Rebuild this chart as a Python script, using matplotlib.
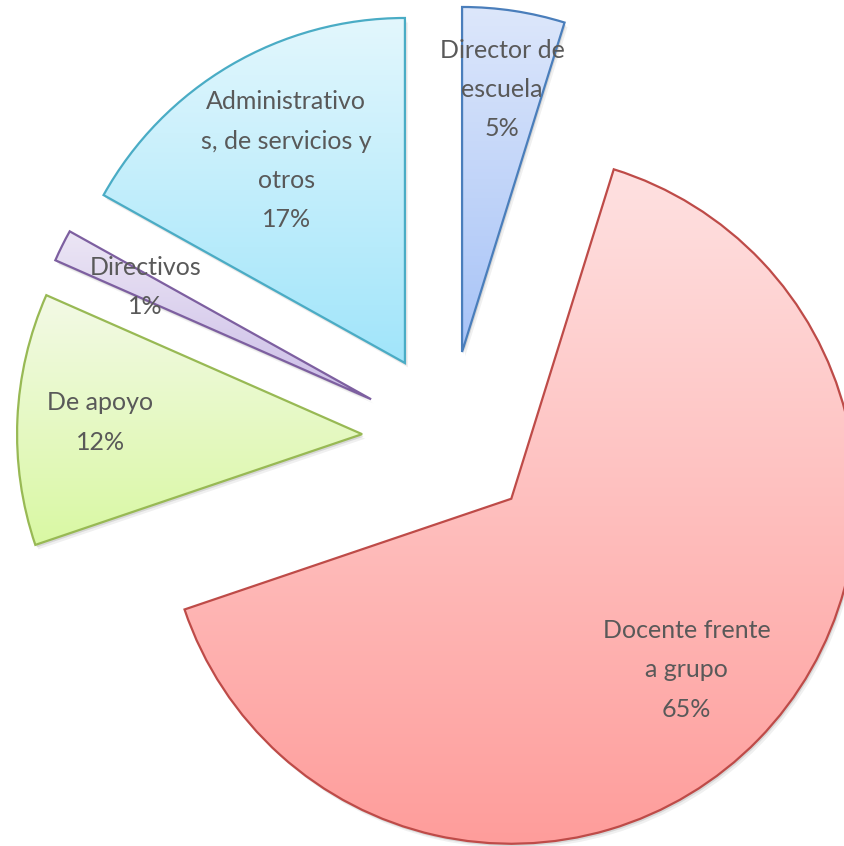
import numpy as np
import matplotlib.pyplot as plt
from matplotlib.colors import LinearSegmentedColormap
from matplotlib.patches import Wedge

# datos del gráfico
categorias = ['Director de\nescuela', 'Docente frente\na grupo', 'De apoyo',
              'Directivos', 'Administrativo\ns, de servicios y\notros']
porcentajes = [4.8, 65.0, 11.8, 1.49, 16.91]

# colores (degradado de arriba a abajo) y borde
color_arriba = ['#dde7fb', '#fee1e1', '#f3fae6', '#ece6f5', '#e3f7fd']
color_abajo = ['#a7c3f7', '#ff9d9b', '#d9f8a3', '#cbbde7', '#a1e5fa']
color_borde = ['#4a7ebb', '#be4b48', '#98b954', '#7d5fa0', '#4aacc5']
dist_etiqueta = [0.77, 0.71, 0.76, 0.73, 0.68]

fig = plt.figure(figsize=(8.44, 8.46), dpi=100)
ax = fig.add_axes([0, 0, 1, 1])

radio = 345
centro = (449, 408)
wedges, _ = ax.pie(porcentajes, radius=radio, center=centro, startangle=90,
                   counterclock=False, explode=[87] * len(porcentajes),
                   wedgeprops=dict(linewidth=1.6))

grad = np.linspace(0, 1, 256).reshape(-1, 1)
for i, w in enumerate(wedges):
    w.set_facecolor('none')
    w.set_edgecolor(color_borde[i])
    w.set_zorder(3)
    cx, cy = w.center
    # sombra suave
    for dx, dy, a in [(1.5, -2.5, 0.10), (3, -4.5, 0.06)]:
        ax.add_patch(Wedge((cx + dx, cy + dy), radio, w.theta1, w.theta2,
                           facecolor='black', edgecolor='none', alpha=a, zorder=1))
    ext = w.get_path().get_extents()
    cmap = LinearSegmentedColormap.from_list('g%d' % i, [color_arriba[i], color_abajo[i]])
    im = ax.imshow(grad, cmap=cmap, extent=[ext.x0, ext.x1, ext.y0, ext.y1],
                   origin='upper', aspect='auto', zorder=2)
    im.set_clip_path(w)
    # etiqueta
    tm = np.deg2rad((w.theta1 + w.theta2) / 2)
    xt = cx + dist_etiqueta[i] * radio * np.cos(tm)
    yt = cy + dist_etiqueta[i] * radio * np.sin(tm)
    ax.text(xt, yt, '%s\n%d%%' % (categorias[i], round(porcentajes[i])), ha='center', va='center',
            fontsize=18, color='#595959', family='Lato',
            linespacing=1.86, zorder=5)

ax.set_xlim(0, 844)
ax.set_ylim(0, 846)
ax.set_aspect('equal')
ax.axis('off')

fig.savefig('out.png', dpi=100)
